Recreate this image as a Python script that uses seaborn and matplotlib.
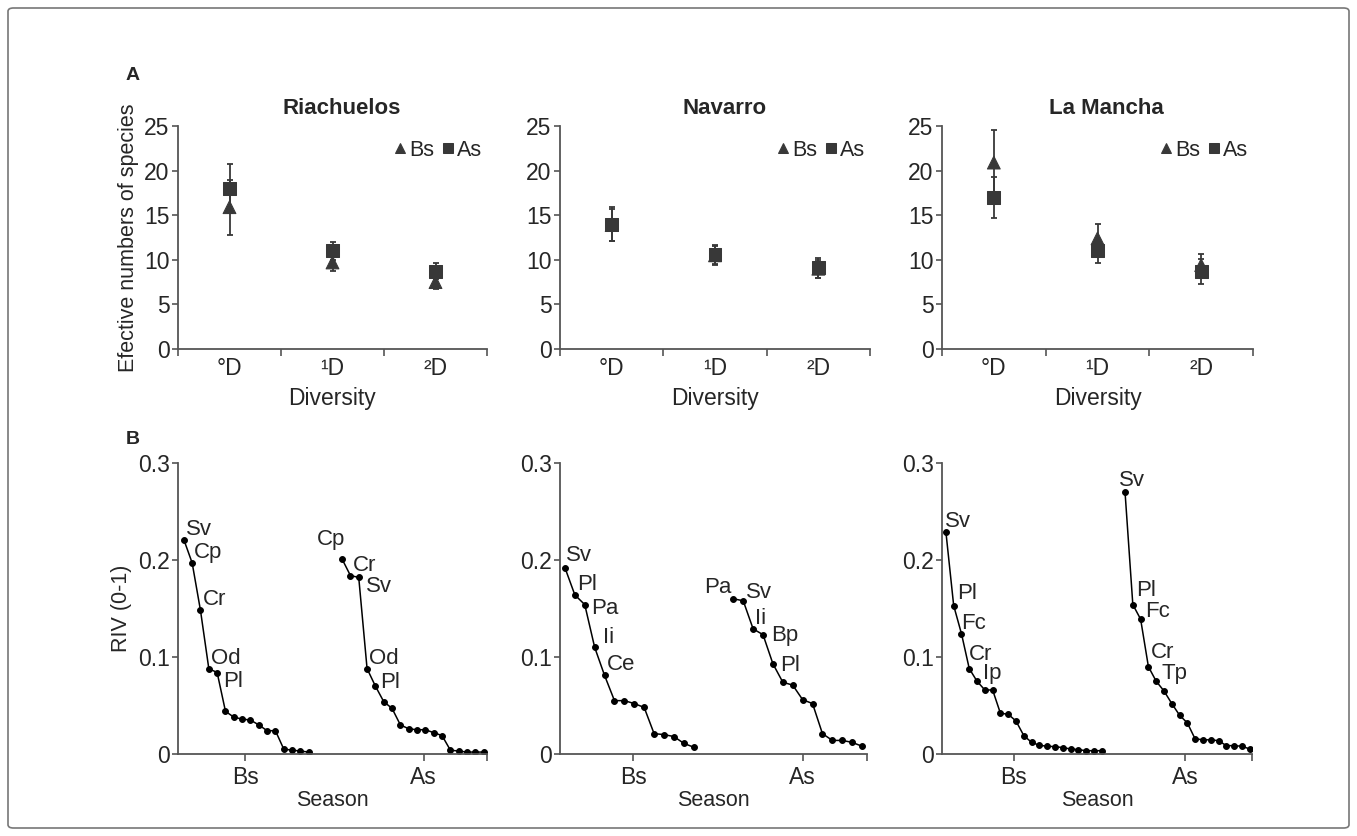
import numpy as np
import pandas as pd
import matplotlib
matplotlib.use("Agg")
import matplotlib.pyplot as plt
from matplotlib.patches import FancyBboxPatch
import seaborn as sns

# ---- panel A data: effective numbers of species (mean, error) ----
sites = ['Riachuelos', 'Navarro', 'La Mancha']
diversity = ['°D', '¹D', '²D']

ria_bs = [15.9, 9.7, 7.5]
ria_bs_err = [3.1, 1.0, 0.8]
ria_as = [18.0, 11.0, 8.7]
ria_as_err = [2.7, 1.0, 0.9]

nav_bs = [13.9, 10.5, 9.0]
nav_bs_err = [1.8, 1.1, 1.0]
nav_as = [14.0, 10.6, 9.1]
nav_as_err = [1.9, 1.1, 1.1]

lm_bs = [20.9, 12.4, 9.4]
lm_bs_err = [3.7, 1.6, 1.3]
lm_as = [17.0, 11.0, 8.7]
lm_as_err = [2.3, 1.35, 1.4]

# ---- panel B data: RIV rank curves ----
ria_bs_riv = [0.221, 0.197, 0.148, 0.088, 0.084, 0.044, 0.038, 0.036, 0.035, 0.030,
              0.024, 0.024, 0.005, 0.004, 0.003, 0.002]
ria_as_riv = [0.201, 0.184, 0.182, 0.088, 0.070, 0.054, 0.047, 0.030, 0.026, 0.025,
              0.025, 0.022, 0.019, 0.004, 0.003, 0.002, 0.002, 0.002]
nav_bs_riv = [0.192, 0.164, 0.154, 0.110, 0.081, 0.055, 0.055, 0.052, 0.048, 0.021,
              0.020, 0.018, 0.011, 0.007]
nav_as_riv = [0.160, 0.158, 0.129, 0.123, 0.093, 0.074, 0.071, 0.056, 0.052, 0.021,
              0.014, 0.014, 0.012, 0.008]
lm_bs_riv = [0.229, 0.153, 0.124, 0.088, 0.075, 0.066, 0.066, 0.042, 0.041, 0.034,
             0.019, 0.012, 0.009, 0.008, 0.0076, 0.0066, 0.0052, 0.0045, 0.0034, 0.0034, 0.0034]
lm_as_riv = [0.270, 0.154, 0.139, 0.090, 0.075, 0.065, 0.052, 0.040, 0.032, 0.0155,
             0.0148, 0.0145, 0.0138, 0.0086, 0.0086, 0.008, 0.0052]

ria_bs_lab = ['Sv', 'Cp', 'Cr', 'Od', 'Pl']
ria_as_lab = ['Cp', 'Cr', 'Sv', 'Od', 'Pl']
nav_bs_lab = ['Sv', 'Pl', 'Pa', 'Ii', 'Ce']
nav_as_lab = ['Pa', 'Sv', 'Ii', 'Bp', 'Pl']
lm_bs_lab = ['Sv', 'Pl', 'Fc', 'Cr', 'Ip']
lm_as_lab = ['Sv', 'Pl', 'Fc', 'Cr', 'Tp']

sns.set_style('white')
plt.rcParams['font.family'] = ['Liberation Sans', 'DejaVu Sans']

W, H = 1357, 836
fig = plt.figure(figsize=(W / 100, H / 100), dpi=100)
spine_c = '#555555'
mark_c = '#383838'
tick_fs = 16.5

def px_axes(left, right, top, bottom):
    return fig.add_axes([left / W, 1 - bottom / H, (right - left) / W, (bottom - top) / H])

def style_axes(ax):
    sns.despine(ax=ax)
    for s in ['left', 'bottom']:
        ax.spines[s].set_color(spine_c)
        ax.spines[s].set_linewidth(1.3)
    ax.tick_params(axis='y', which='major', direction='out', length=4, width=1.2,
                   color=spine_c, labelsize=tick_fs, pad=2, left=True)
    ax.tick_params(axis='x', which='major', labelsize=tick_fs, pad=4)
    ax.tick_params(axis='x', which='minor', direction='out', length=5, width=1.2,
                   color=spine_c, bottom=True)

# ---- top row ----
top_data = [(ria_bs, ria_bs_err, ria_as, ria_as_err),
            (nav_bs, nav_bs_err, nav_as, nav_as_err),
            (lm_bs, lm_bs_err, lm_as, lm_as_err)]
lefts = [178, 560, 942]
rights = [487, 870, 1253]

for i, site in enumerate(sites):
    bs, bs_err, as_, as_err = top_data[i]
    ax = px_axes(lefts[i], rights[i], 126, 349)
    df = pd.DataFrame({
        'pos': list(range(3)) * 2,
        'value': bs + as_,
        'err': bs_err + as_err,
        'season': ['Bs'] * 3 + ['As'] * 3,
    })
    for season in ['Bs', 'As']:
        d = df[df.season == season]
        ax.errorbar(d.pos, d.value, yerr=d.err, fmt='none', ecolor=mark_c,
                    elinewidth=1.3, capsize=2.5, capthick=1.3, zorder=2)
    sns.scatterplot(data=df, x='pos', y='value', style='season',
                    markers={'Bs': '^', 'As': 's'}, style_order=['Bs', 'As'],
                    color=mark_c, edgecolor=mark_c, s=85, ax=ax, zorder=3)
    ax.set_xlim(-0.5, 2.5)
    ax.set_ylim(0, 25)
    ax.set_yticks([0, 5, 10, 15, 20, 25])
    ax.set_xticks(range(3))
    ax.set_xticklabels(diversity)
    ax.set_xticks([-0.5, 0.5, 1.5, 2.5], minor=True)
    ax.tick_params(axis='x', which='major', length=0)
    style_axes(ax)
    ax.tick_params(axis='x', which='major', pad=6)
    ax.set_xlabel('Diversity', fontsize=16.5, labelpad=5)
    ax.set_ylabel('Efective numbers of species' if i == 0 else '', fontsize=15.5, labelpad=4)
    ax.set_title(site, fontsize=16, fontweight='bold', pad=9, x=0.53)
    ax.legend(loc='center right', bbox_to_anchor=(1.02, 0.89), ncol=2, frameon=False,
              handletextpad=0.0, columnspacing=0.15, handlelength=0.9,
              markerscale=0.75, fontsize=15.5, borderpad=0)

# ---- bottom row ----
bot_data = [(ria_bs_riv, ria_as_riv, ria_bs_lab, ria_as_lab, 4, (0.3, 37.4), (8.35, 29.8)),
            (nav_bs_riv, nav_as_riv, nav_bs_lab, nav_as_lab, 4, (0.5, 31.5), (7.9, 25.0)),
            (lm_bs_riv, lm_as_riv, lm_bs_lab, lm_as_lab, 3, (0.5, 40.3), (9.7, 31.7))]
rights_b = [487, 867, 1252]

# label offsets in pixels (default: right/above the point)
default_off = (2, 5)
label_off = {
    (0, 'Bs', 'Pl'): (6, -14),
    (0, 'As', 'Cp'): (-25, 14),
    (0, 'As', 'Sv'): (7, -15),
    (0, 'As', 'Pl'): (5, -2),
    (1, 'Bs', 'Sv'): (1, 7),
    (1, 'Bs', 'Pa'): (6, -9),
    (1, 'Bs', 'Ii'): (8, 4),
    (1, 'As', 'Pa'): (-29, 6),
    (1, 'As', 'Sv'): (3, 3),
    (1, 'As', 'Bp'): (8, -6),
    (1, 'As', 'Pl'): (7, -7),
    (2, 'Bs', 'Sv'): (-1, 5),
    (2, 'Bs', 'Pl'): (3, 7),
    (2, 'Bs', 'Fc'): (0, 5),
    (2, 'Bs', 'Cr'): (0, 9),
    (2, 'Bs', 'Ip'): (6, 2),
    (2, 'As', 'Sv'): (-6, 6),
    (2, 'As', 'Pl'): (3, 9),
    (2, 'As', 'Fc'): (5, 2),
    (2, 'As', 'Cr'): (2, 9),
    (2, 'As', 'Tp'): (5, 2),
}

for i, (bsr, asr, bsl, asl, gap, xl, tk) in enumerate(bot_data):
    ax = px_axes(lefts[i], rights_b[i], 463, 754)
    x_bs = np.arange(1, len(bsr) + 1)
    x_as = np.arange(len(bsr) + gap, len(bsr) + gap + len(asr))
    df = pd.DataFrame({
        'rank': np.concatenate([x_bs, x_as]),
        'riv': bsr + asr,
        'season': ['Bs'] * len(bsr) + ['As'] * len(asr),
    })
    sns.lineplot(data=df, x='rank', y='riv', units='season', estimator=None,
                 color='black', lw=1.1, marker='o', markersize=4.2,
                 markeredgecolor='black', ax=ax)
    for season, xs, vals, labs in [('Bs', x_bs, bsr, bsl), ('As', x_as, asr, asl)]:
        for j, lab in enumerate(labs):
            dx, dy = label_off.get((i, season, lab), default_off)
            ax.annotate(lab, (xs[j], vals[j]), xytext=(dx, dy), textcoords='offset pixels',
                        ha='left', va='baseline', fontsize=16)
    ax.set_xlim(*xl)
    ax.set_ylim(0, 0.3)
    ax.set_yticks([0, 0.1, 0.2, 0.3])
    ax.set_yticklabels(['0', '0.1', '0.2', '0.3'])
    ax.set_xticks(list(tk))
    ax.set_xticklabels(['Bs', 'As'])
    ax.set_xticks([xl[1]], minor=True)
    ax.tick_params(axis='x', which='major', direction='out', length=5, width=1.2,
                   color=spine_c, bottom=True)
    style_axes(ax)
    ax.set_xlabel('Season', fontsize=15.5, labelpad=0)
    ax.set_ylabel('RIV (0-1)' if i == 0 else '', fontsize=15.5, labelpad=4)

fig.text(133 / W, 1 - 75 / H, 'A', fontsize=14, fontweight='bold', ha='center', va='center')
fig.text(133 / W, 1 - 440 / H, 'B', fontsize=14, fontweight='bold', ha='center', va='center')

fig.patches.append(FancyBboxPatch((8 / W, 8 / H), (W - 16) / W, (H - 16) / H,
                                  boxstyle='round,pad=0,rounding_size=0.004',
                                  transform=fig.transFigure, fill=False,
                                  edgecolor='#777777', lw=1.2))

fig.savefig('out.png', dpi=100)
